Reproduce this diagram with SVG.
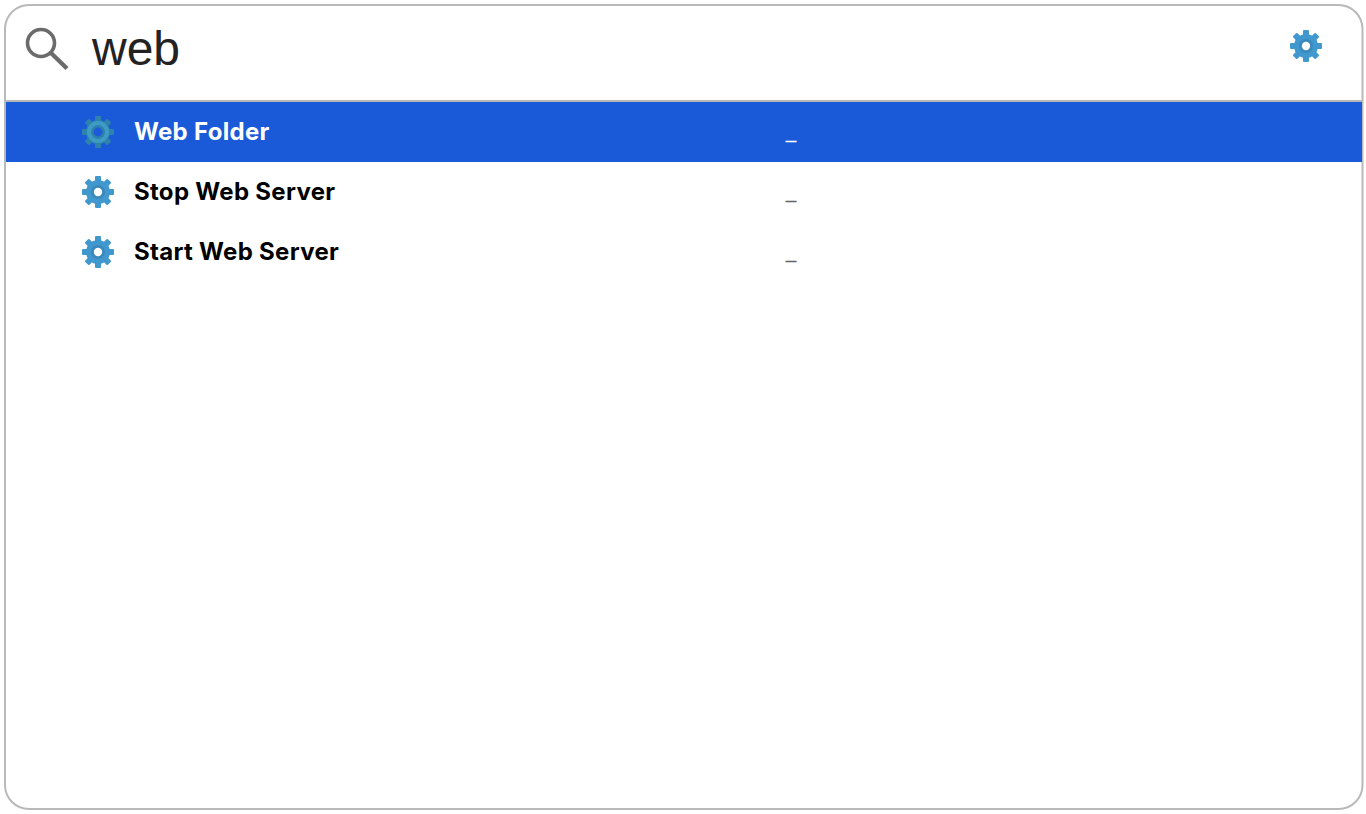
<svg xmlns="http://www.w3.org/2000/svg" width="1366" height="814" viewBox="0 0 1366 814">
<style>
.t{font-family:"Inter","Liberation Sans",sans-serif;font-weight:700;font-size:24px;letter-spacing:.3px;fill:#000}
.u{font-family:"Liberation Sans",Arial,sans-serif;font-size:18px;font-weight:700;fill:#666;stroke:#666;stroke-width:.6px}
.w{fill:#fff;stroke:#fff}
.q{font-family:"Liberation Sans",Arial,sans-serif;font-size:48px;fill:#222}
.g{fill:#3f98cf}
</style>
<defs>
<filter id="soft" x="-20%" y="-20%" width="140%" height="140%"><feGaussianBlur stdDeviation="0.7"/></filter>
<g id="teeth">
<rect x="-3" y="-16" width="6" height="8" rx="1"/>
<rect x="-3" y="-16" width="6" height="8" rx="1" transform="rotate(45)"/>
<rect x="-3" y="-16" width="6" height="8" rx="1" transform="rotate(90)"/>
<rect x="-3" y="-16" width="6" height="8" rx="1" transform="rotate(135)"/>
<rect x="-3" y="-16" width="6" height="8" rx="1" transform="rotate(180)"/>
<rect x="-3" y="-16" width="6" height="8" rx="1" transform="rotate(225)"/>
<rect x="-3" y="-16" width="6" height="8" rx="1" transform="rotate(270)"/>
<rect x="-3" y="-16" width="6" height="8" rx="1" transform="rotate(315)"/>
<circle r="12"/>
</g>
<g id="gear" filter="url(#soft)">
<use href="#teeth" class="g"/>
<circle r="7" fill="#3a88bb"/>
<circle r="4.2" fill="#fbfdff"/>
</g>
<g id="gearSel" filter="url(#soft)">
<use href="#teeth" fill="#2f83ad"/>
<circle r="11" fill="#3e9cc4"/>
<circle r="7" fill="#2f7fb0"/>
<circle r="4.4" fill="#1a5ad8"/>
</g>
</defs>
<rect width="1366" height="814" fill="#fff"/>
<rect id="frame" x="5" y="5" width="1357.5" height="804" rx="24" fill="#fff" stroke="#b9b9b9" stroke-width="2"/>
<g id="search">
<circle cx="41" cy="43" r="13.5" fill="none" stroke="#6b6b6b" stroke-width="3.6"/>
<line x1="51" y1="53" x2="67" y2="68.5" stroke="#6b6b6b" stroke-width="4.4"/>
<text class="q" x="92" y="65">web</text>
<use href="#gear" x="1306" y="46"/>
</g>
<rect id="divider" x="6" y="100" width="1356" height="2" fill="#b9b9b9"/>
<g id="row1">
<rect x="6" y="102" width="1356" height="60" fill="#1a5ad8"/>
<use href="#gearSel" x="98" y="132"/>
<text class="t" x="134" y="140" style="fill:#fff">Web Folder</text>
<text class="u w" x="786" y="140" style="fill:#fff;stroke:#fff">_</text>
</g>
<g id="row2">
<use href="#gear" x="98" y="192"/>
<text class="t" x="134" y="200">Stop Web Server</text>
<text class="u" x="786" y="200">_</text>
</g>
<g id="row3">
<use href="#gear" x="98" y="252"/>
<text class="t" x="134" y="260">Start Web Server</text>
<text class="u" x="786" y="260">_</text>
</g>
</svg>
